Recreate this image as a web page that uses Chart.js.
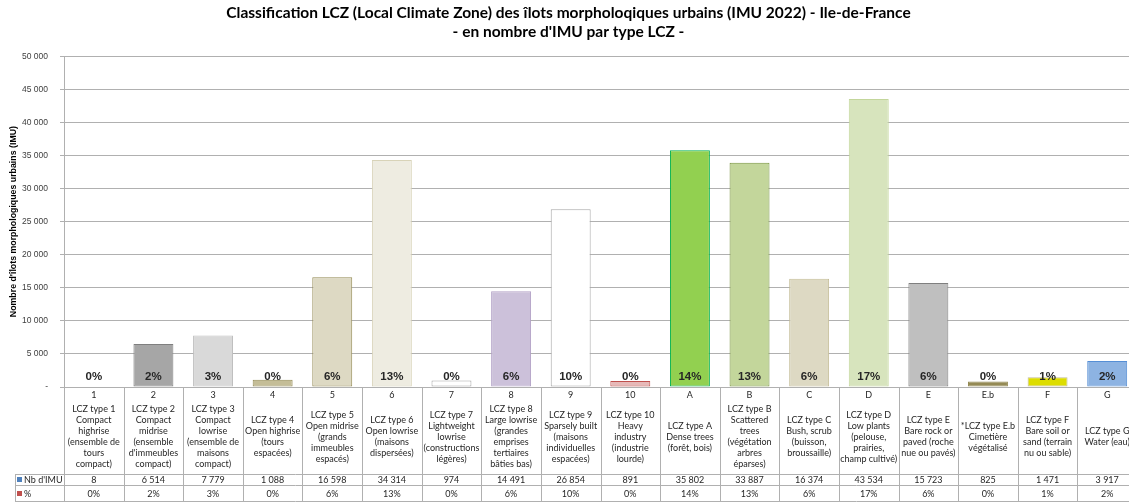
<!DOCTYPE html>
<html>
<head>
<meta charset="utf-8">
<script src="https://cdn.jsdelivr.net/npm/chart.js@4"></script>
<style>
  html, body { margin: 0; padding: 0; background: #fff; overflow: hidden; }
  #chart { display: block; }
</style>
</head>
<body>
<canvas id="chart" width="1137" height="503"></canvas>
<script>
// --- data ---
const codes = ['1','2','3','4','5','6','7','8','9','10','A','B','C','D','E','E.b','F','G'];

const typeLabels = [
  ['LCZ type 1','Compact','highrise','(ensemble de','tours','compact)'],
  ['LCZ type 2','Compact','midrise','(ensemble',"d'immeubles",'compact)'],
  ['LCZ type 3','Compact','lowrise','(ensemble de','maisons','compact)'],
  ['LCZ type 4','Open highrise','(tours','espacées)'],
  ['LCZ type 5','Open midrise','(grands','immeubles','espacés)'],
  ['LCZ type 6','Open lowrise','(maisons','dispersées)'],
  ['LCZ type 7','Lightweight','lowrise','(constructions','légères)'],
  ['LCZ type 8','Large lowrise','(grandes','emprises','tertiaires','bâties bas)'],
  ['LCZ type 9','Sparsely built','(maisons','individuelles','espacées)'],
  ['LCZ type 10','Heavy','industry','(industrie','lourde)'],
  ['LCZ type A','Dense trees','(forêt, bois)'],
  ['LCZ type B','Scattered','trees','(végétation','arbres','éparses)'],
  ['LCZ type C','Bush, scrub','(buisson,','broussaille)'],
  ['LCZ type D','Low plants','(pelouse,','prairies,','champ cultivé)'],
  ['LCZ type E','Bare rock or','paved (roche','nue ou pavés)'],
  ['*LCZ type E.b','Cimetière','végétalisé'],
  ['LCZ type F','Bare soil or','sand (terrain','nu ou sable)'],
  ['LCZ type G','Water (eau)']
];

const nbImu = [8, 6514, 7779, 1088, 16598, 34314, 974, 14491, 26854, 891, 35802, 33887, 16374, 43534, 15723, 825, 1471, 3917];
const pctLabels = ['0%','2%','3%','0%','6%','13%','0%','6%','10%','0%','14%','13%','6%','17%','6%','0%','1%','2%'];

const fillColors = ['#ffffff','#a6a6a6','#d9d9d9','#c4bd97','#ddd9c3','#eeece1','#ffffff','#ccc1da','#ffffff','#e6b9b8',
                    '#92d050','#c3d69b','#ddd9c3','#d7e4bd','#bfbfbf','#948a54','#dddd00','#8db3e2'];
const borderColors = ['#ffffff','#7f7f7f','#bfbfbf','#948a54','#948a54','#d8d3b8','#a6a6a6','#b3a2c7','#a6a6a6','#c0504d',
                      '#00b050','#77933c','#c4bd97','#c3d69b','#7f7f7f','#948a54','#c4bd97','#558ed5'];

const yMax = 50000;
const yStep = 5000;

const LINE = '#b0b0b0';
const TXT = '#262626';

function fmtThousands(v) {
  if (v === 0) return '-';
  return String(v).replace(/\B(?=(\d{3})+(?!\d))/g, ' ');
}

// --- percent labels inside the bars ---
const pctPlugin = {
  id: 'pctLabels',
  afterDatasetsDraw(chart) {
    const ctx = chart.ctx;
    const meta = chart.getDatasetMeta(0);
    ctx.save();
    ctx.font = 'bold 11.5px "Liberation Sans", Arial, sans-serif';
    ctx.fillStyle = TXT;
    ctx.textAlign = 'center';
    ctx.textBaseline = 'middle';
    meta.data.forEach((bar, i) => {
      ctx.fillText(pctLabels[i], bar.x, chart.chartArea.bottom - 10);
    });
    ctx.restore();
  }
};

// --- data table under the x axis ---
const tablePlugin = {
  id: 'lczTable',
  afterDraw(chart) {
    const ctx = chart.ctx;
    const xs = chart.scales.x;
    const n = codes.length;
    const slot = (xs.right - xs.left) / n;
    const top = chart.chartArea.bottom;      // 387
    const labTop = top + 11;
    const nbTop = top + 87;                  // 474
    const pctTop = top + 98;                 // 485
    const bottom = top + 114;                // 501
    const headLeft = 15;

    ctx.save();
    ctx.strokeStyle = LINE;
    ctx.lineWidth = 1;
    ctx.beginPath();
    for (let i = 0; i <= n; i++) {
      const x = Math.round(xs.left + i * slot) + 0.5;
      ctx.moveTo(x, top);
      ctx.lineTo(x, bottom);
    }
    [nbTop, pctTop, bottom].forEach(y => {
      ctx.moveTo(headLeft, y + 0.5);
      ctx.lineTo(xs.right, y + 0.5);
    });
    ctx.moveTo(headLeft + 0.5, nbTop);
    ctx.lineTo(headLeft + 0.5, bottom);
    ctx.stroke();

    ctx.fillStyle = TXT;
    ctx.textAlign = 'center';
    ctx.textBaseline = 'middle';
    ctx.font = '9px Lato, sans-serif';
    const lh = 11;
    const labMid = (labTop + nbTop) / 2 + 1;
    codes.forEach((c, i) => {
      const cx = xs.getPixelForValue(i);
      ctx.fillText(c, cx, top + 8);
      const lines = typeLabels[i];
      const y0 = labMid - (lines.length - 1) * lh / 2;
      lines.forEach((t, k) => ctx.fillText(t, cx, y0 + k * lh));
      ctx.fillText(fmtThousands(nbImu[i]), cx, nbTop + 6);
      ctx.fillText(pctLabels[i], cx, pctTop + 9);
    });

    // row headers with legend keys
    ctx.textAlign = 'left';
    ctx.fillStyle = '#4f81bd';
    ctx.fillRect(17, nbTop + 3, 5, 5);
    ctx.fillStyle = '#c0504d';
    ctx.fillRect(17, pctTop + 6, 5, 5);
    ctx.fillStyle = TXT;
    ctx.fillText("Nb d'IMU", 24, nbTop + 6);
    ctx.fillText('%', 24, pctTop + 9);
    ctx.restore();
  }
};

new Chart(document.getElementById('chart'), {
  type: 'bar',
  data: {
    labels: codes,
    datasets: [{
      label: "Nb d'IMU",
      data: nbImu,
      backgroundColor: fillColors,
      borderColor: borderColors,
      borderWidth: 1,
      borderSkipped: false,
      categoryPercentage: 1,
      barPercentage: 0.67
    }]
  },
  options: {
    responsive: false,
    animation: false,
    layout: { padding: 0 },
    plugins: {
      legend: { display: false },
      tooltip: { enabled: false },
      title: {
        display: true,
        text: ['Classification LCZ (Local Climate Zone) des îlots morpholoqiques urbains (IMU 2022) - Ile-de-France',
               "- en nombre d'IMU par type LCZ -"],
        color: '#000',
        font: { family: 'Lato, sans-serif', size: 15.5, weight: 'bold', lineHeight: 1.2 },
        padding: { top: 4, bottom: 15 }
      }
    },
    scales: {
      x: {
        grid: { display: false },
        ticks: { display: false },
        border: { color: LINE },
        afterFit(s) { s.height = 116; }
      },
      y: {
        min: 0,
        max: yMax,
        ticks: {
          stepSize: yStep,
          callback: v => fmtThousands(v),
          color: '#404040',
          font: { family: '"Liberation Sans", Arial, sans-serif', size: 8.5 },
          padding: 12
        },
        grid: { color: LINE, tickLength: 4 },
        border: { color: LINE },
        title: {
          display: true,
          text: "Nombre d'îlots morphologiques urbains (IMU)",
          color: '#000',
          font: { family: '"Liberation Sans", Arial, sans-serif', size: 8.8, weight: 'bold' },
          padding: { top: 8, bottom: 0 }
        },
        afterFit(s) { s.width = 64; }
      }
    }
  },
  plugins: [pctPlugin, tablePlugin]
});
</script>
</body>
</html>
